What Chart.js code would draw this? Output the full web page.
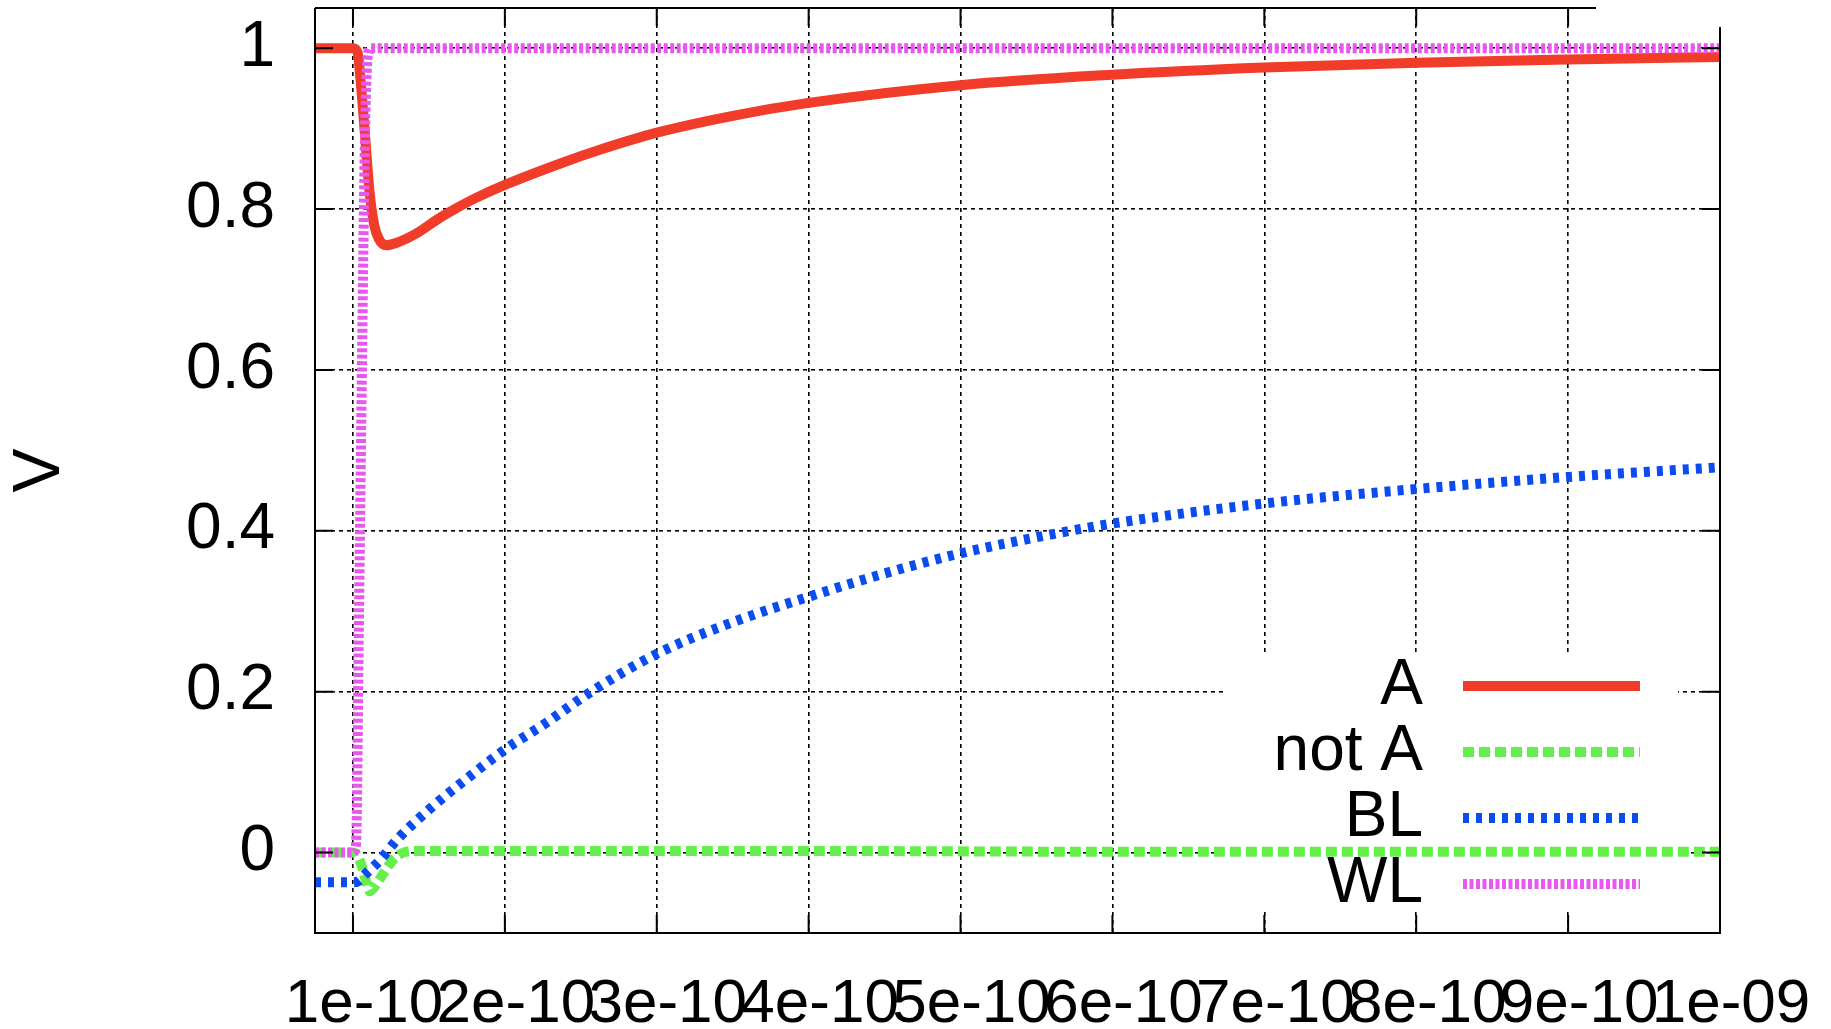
<!DOCTYPE html>
<html>
<head>
<meta charset="utf-8">
<script src="https://cdn.jsdelivr.net/npm/chart.js@4.4.1/dist/chart.umd.min.js"></script>
<style>
  html, body { margin: 0; padding: 0; background: #fff; }
  #wrap { width: 1831px; height: 1029px; }
</style>
</head>
<body>
<div id="wrap"><canvas id="myChart"></canvas></div>
<script>
// axis ticks
const xTicks = [1e-10, 2e-10, 3e-10, 4e-10, 5e-10, 6e-10, 7e-10, 8e-10, 9e-10, 1e-9];
const xTickLabels = ["1e-10", "2e-10", "3e-10", "4e-10", "5e-10", "6e-10", "7e-10", "8e-10", "9e-10", "1e-09"];
const yTicks = [0, 0.2, 0.4, 0.6, 0.8, 1];
const yTickLabels = ["0", "0.2", "0.4", "0.6", "0.8", "1"];

// A
const aTime = [0.75e-10, 1.0e-10, 1.03e-10, 1.05e-10, 1.08e-10, 1.11e-10, 1.14e-10, 1.17e-10, 1.22e-10, 1.3e-10,
  1.42e-10, 1.57e-10, 1.67e-10, 1.8e-10, 2.0e-10, 2.37e-10, 2.63e-10, 3.0e-10, 3.5e-10, 4.0e-10,
  5.0e-10, 6.0e-10, 7.0e-10, 8.0e-10, 9.0e-10, 1.0e-9];
const aVolt = [1.0, 1.0, 0.995, 0.96, 0.89, 0.82, 0.78, 0.763, 0.755, 0.759,
  0.77, 0.789, 0.8, 0.813, 0.83, 0.857, 0.874, 0.895, 0.916, 0.932,
  0.954, 0.967, 0.976, 0.982, 0.986, 0.989];

// not A
const notATime = [0.75e-10, 1.0e-10, 1.03e-10, 1.06e-10, 1.09e-10, 1.11e-10, 1.14e-10, 1.2e-10, 1.26e-10, 1.32e-10,
  1.4e-10, 2.0e-10, 4.0e-10, 6.0e-10, 8.0e-10, 1.0e-9];
const notAVolt = [0, 0, -0.004, -0.018, -0.038, -0.048, -0.043, -0.026, -0.01, -0.001,
  0.002, 0.002, 0.002, 0.001, 0.001, 0.001];

// BL
const blTime = [0.75e-10, 1.0e-10, 1.04e-10, 1.07e-10, 1.18e-10, 1.29e-10, 1.51e-10, 1.73e-10, 2.0e-10, 2.27e-10,
  2.56e-10, 3.0e-10, 3.48e-10, 4.0e-10, 4.5e-10, 5.0e-10, 5.5e-10, 6.0e-10, 7.0e-10, 8.0e-10,
  9.0e-10, 1.0e-9];
const blVolt = [-0.037, -0.037, -0.035, -0.029, -0.009, 0.016, 0.055, 0.089, 0.128, 0.161,
  0.199, 0.247, 0.285, 0.318, 0.347, 0.372, 0.392, 0.409, 0.434, 0.452,
  0.467, 0.479];

// WL
const wlTime = [0.75e-10, 1.0e-10, 1.02e-10, 1.04e-10, 1.06e-10, 1.08e-10, 1.1e-10, 1.12e-10, 2.0e-10, 5.0e-10, 1.0e-9];
const wlVolt = [0, 0, 0.01, 0.3, 0.62, 0.9, 0.995, 1.0, 1.0, 1.0, 1.0];

const toPoints = (ts, vs) => ts.map((t, i) => ({ x: t, y: vs[i] }));

Chart.defaults.font.family = '"Liberation Sans", Arial, Helvetica, sans-serif';
Chart.defaults.color = "#000";

// gnuplot style frame: white key box, border, inward ticks, key
const gnuplotFrame = {
  id: "gnuplotFrame",
  beforeDatasetsDraw(chart) {
    const { ctx, chartArea: a } = chart;
    ctx.save();
    ctx.fillStyle = "#fff";
    ctx.fillRect(a.right - 494, a.bottom - 278, 452, 257);
    ctx.restore();
  },
  afterDatasetsDraw(chart) {
    const { ctx, chartArea: a, scales } = chart;
    const topEnd = a.right - 124;
    const rightStart = a.top + 19;
    const tick = 18;
    ctx.save();
    ctx.strokeStyle = "#000";
    ctx.lineWidth = 2;
    ctx.setLineDash([]);
    ctx.beginPath();
    ctx.moveTo(a.left, a.top);
    ctx.lineTo(a.left, a.bottom);
    ctx.lineTo(a.right, a.bottom);
    ctx.lineTo(a.right, rightStart);
    ctx.moveTo(a.left, a.top);
    ctx.lineTo(topEnd, a.top);
    xTicks.forEach((v) => {
      const px = scales.x.getPixelForValue(v);
      ctx.moveTo(px, a.bottom);
      ctx.lineTo(px, a.bottom - tick);
      if (px <= topEnd) {
        ctx.moveTo(px, a.top);
        ctx.lineTo(px, a.top + tick);
      }
    });
    yTicks.forEach((v) => {
      const py = scales.y.getPixelForValue(v);
      ctx.moveTo(a.left, py);
      ctx.lineTo(a.left + tick, py);
      ctx.moveTo(a.right, py);
      ctx.lineTo(a.right - tick, py);
    });
    ctx.stroke();

    // key
    ctx.font = '64px "Liberation Sans", Arial, sans-serif';
    ctx.textAlign = "right";
    ctx.textBaseline = "middle";
    chart.data.datasets.forEach((ds, i) => {
      const y = a.bottom - 247 + i * 66;
      ctx.fillStyle = "#000";
      ctx.fillText(ds.label, a.right - 297, y);
      ctx.strokeStyle = ds.borderColor;
      ctx.lineWidth = ds.borderWidth;
      ctx.setLineDash(ds.borderDash || []);
      ctx.beginPath();
      ctx.moveTo(a.right - 257, y);
      ctx.lineTo(a.right - 80, y);
      ctx.stroke();
    });
    ctx.restore();
  },
};

const ctx = document.getElementById("myChart").getContext("2d");

const data = {
  datasets: [
    {
      label: "A",
      data: toPoints(aTime, aVolt),
      borderColor: "#f03c28",
      borderWidth: 10,
      order: 4,
    },
    {
      label: "not A",
      data: toPoints(notATime, notAVolt),
      borderColor: "#66ee4c",
      borderWidth: 10,
      borderDash: [11, 5],
      order: 3,
    },
    {
      label: "BL",
      data: toPoints(blTime, blVolt),
      borderColor: "#0a4cf0",
      borderWidth: 10,
      borderDash: [6, 7],
      order: 2,
    },
    {
      label: "WL",
      data: toPoints(wlTime, wlVolt),
      borderColor: "#e858ee",
      borderWidth: 10,
      borderDash: [4, 2.5],
      order: 1,
    },
  ],
};

const options = {
  responsive: true,
  maintainAspectRatio: false,
  animation: false,
  layout: { padding: { top: 8, right: 111, bottom: 0, left: 0 } },
  elements: {
    point: { radius: 0 },
    line: { cubicInterpolationMode: "monotone", borderJoinStyle: "round", fill: false },
  },
  plugins: {
    legend: { display: false },
    tooltip: { enabled: false },
  },
  scales: {
    x: {
      type: "linear",
      min: 0.75e-10,
      max: 1e-9,
      afterBuildTicks: (scale) => { scale.ticks = xTicks.map((v) => ({ value: v })); },
      afterFit: (scale) => {
        scale.height = 96;
        scale.paddingLeft = 0;
        scale.paddingRight = 0;
      },
      ticks: {
        autoSkip: false,
        maxRotation: 0,
        minRotation: 0,
        padding: 35,
        labelOffset: 11,
        font: { size: 62 },
        callback: (value, index) => xTickLabels[index],
      },
      grid: {
        drawTicks: false,
        lineWidth: 1.6,
        color: (c) => (c.tick && c.tick.value === 1e-9 ? "rgba(0,0,0,0)" : "#000"),
      },
      border: { display: false, dash: [4, 4] },
    },
    y: {
      min: -0.1,
      max: 1.05,
      afterBuildTicks: (scale) => { scale.ticks = yTicks.map((v) => ({ value: v })); },
      afterFit: (scale) => {
        scale.width = 315;
        scale.paddingTop = 0;
        scale.paddingBottom = 0;
      },
      ticks: {
        padding: 40,
        font: { size: 64 },
        callback: (value, index) => yTickLabels[index],
      },
      grid: {
        drawTicks: false,
        lineWidth: 1.6,
        color: "#000",
      },
      border: { display: false, dash: [4, 4] },
      title: {
        display: true,
        text: "V",
        font: { size: 66, lineHeight: 1.2 },
        padding: { top: 1, bottom: 0 },
      },
    },
  },
};

new Chart(ctx, {
  type: "line",
  data: data,
  options: options,
  plugins: [gnuplotFrame],
});
</script>
</body>
</html>
